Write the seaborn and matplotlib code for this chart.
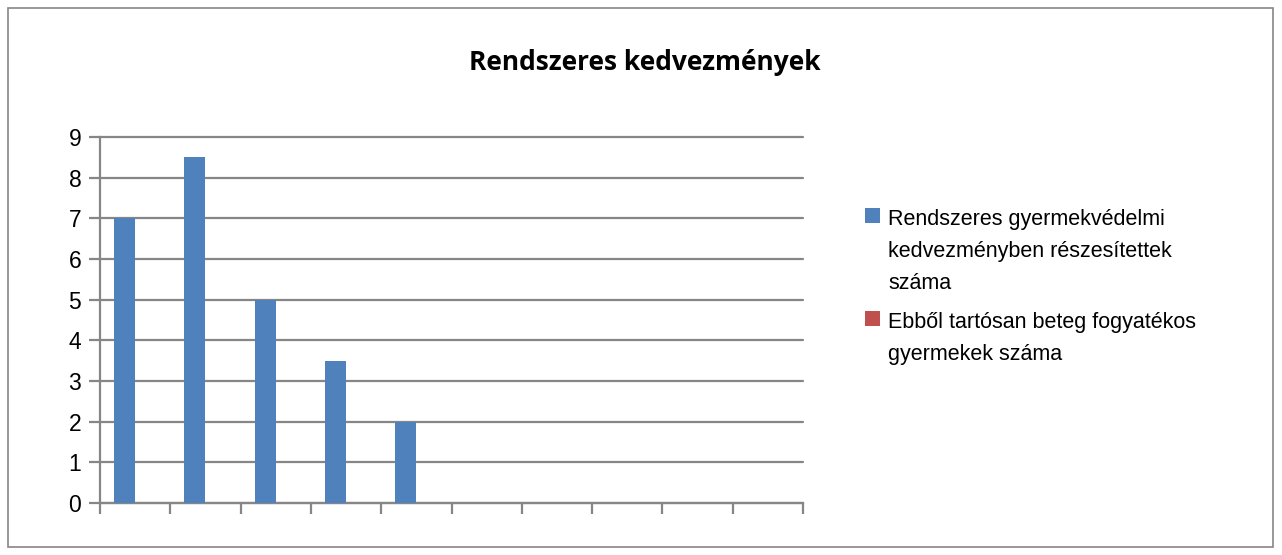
import pandas as pd
import numpy as np
import matplotlib.pyplot as plt
import seaborn as sns
from matplotlib.patches import Rectangle

# Data (category labels are blank in the original)
categories = ["1", "2", "3", "4", "5", "6", "7", "8", "9", "10"]
series_names = ["Rendszeres gyermekvédelmi\nkedvezményben részesítettek\nszáma",
                "Ebből tartósan beteg fogyatékos\ngyermekek száma"]
rendszeres = [7, 8.5, 5, 3.5, 2, 0, 0, 0, 0, 0]
tartosan_beteg = [0, 0, 0, 0, 0, 0, 0, 0, 0, 0]
y_ticks = [0, 1, 2, 3, 4, 5, 6, 7, 8, 9]
colors = ["#4F81BD", "#C0504D"]

df = pd.DataFrame({
    "Kategoria": categories * 2,
    "Sorozat": [series_names[0]] * len(categories) + [series_names[1]] * len(categories),
    "Ertek": rendszeres + tartosan_beteg,
})

sns.set_style("white")
plt.rcParams['font.family'] = ['Liberation Sans', 'DejaVu Sans']
plt.rcParams['text.color'] = 'black'
plt.rcParams['ytick.labelcolor'] = 'black'

fig = plt.figure(figsize=(12.82, 5.55), dpi=100)
ax = fig.add_axes([100 / 1282, 1 - 503 / 555, 703 / 1282, 366 / 555])

sns.barplot(data=df, x="Kategoria", y="Ertek", hue="Sorozat", order=categories,
            hue_order=series_names, palette=colors, width=0.6, saturation=1,
            linewidth=0, ax=ax, zorder=3, legend=False)

ax.set_xlim(-0.5, len(categories) - 0.5)
ax.set_ylim(0, 9)
ax.set_yticks(y_ticks)
ax.set_xlabel("")
ax.set_ylabel("")

# gridlines and axes in Excel gray
ax.yaxis.grid(True, color="#868686", linewidth=1.6, zorder=0)
for gl in ax.get_ygridlines():
    gl.set_clip_on(False)
ax.set_axisbelow(True)
for side in ["top", "right"]:
    ax.spines[side].set_visible(False)
for side in ["left", "bottom"]:
    ax.spines[side].set_color("#868686")
    ax.spines[side].set_linewidth(1.6)

ax.set_xticks(np.arange(len(categories)))
ax.set_xticklabels([])
ax.tick_params(axis="x", which="major", length=0)
ax.set_xticks(np.arange(-0.5, len(categories)), minor=True)
ax.tick_params(axis="x", which="minor", bottom=True, length=8, width=1.6,
               color="#868686", direction="out")
ax.tick_params(axis="y", left=True, length=8, width=1.6, color="#868686",
               labelcolor="black", direction="out", labelsize=16.5, pad=5.5)

# legend: square aligned with the first line of each entry, like Excel
legend_tops = [208, 311]
for name, color, top in zip(series_names, colors, legend_tops):
    fig.patches.append(Rectangle((865 / 1282, 1 - (top + 15) / 555), 15 / 1282, 15 / 555,
                                 transform=fig.transFigure, facecolor=color,
                                 edgecolor="none"))
    fig.text(888 / 1282, 1 - (top + 1) / 555, name, ha="left", va="top",
             fontsize=15.5, linespacing=1.68, color="black")

fig.text(645 / 1282, 1 - 63 / 555, "Rendszeres kedvezmények", ha="center", va="center",
         fontsize=19, fontweight="bold", color="black",
         family=["Open Sans", "DejaVu Sans"])

# outer chart border
fig.patches.append(Rectangle((8 / 1282, 8 / 555), 1265 / 1282, 539 / 555,
                             transform=fig.transFigure, fill=False,
                             edgecolor="#868686", linewidth=1.2))

fig.savefig("out.png", dpi=100)
